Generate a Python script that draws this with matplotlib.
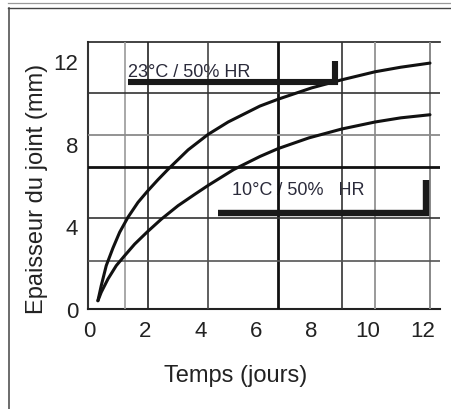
import matplotlib
matplotlib.use("Agg")
import matplotlib.pyplot as plt
from matplotlib.lines import Line2D

plt.rcParams['font.family'] = ['Liberation Sans', 'DejaVu Sans']

# ---- data ----
x_23 = [0.32, 0.44, 0.62, 0.86, 1.10, 1.40, 1.76, 2.10, 2.48, 2.84, 3.56, 4.28, 5.00,
        6.14, 6.79, 8.00, 9.08, 10.28, 11.20, 12.25]
y_23 = [0.40, 1.13, 2.10, 2.95, 3.71, 4.44, 5.16, 5.70, 6.26, 6.76, 7.70, 8.45, 9.05,
        9.82, 10.15, 10.70, 11.09, 11.48, 11.70, 11.90]

x_10 = [0.32, 0.44, 0.68, 0.98, 1.28, 1.64, 2.10, 2.60, 3.20, 3.80, 4.28, 5.20,
        6.14, 6.79, 7.90, 9.08, 10.28, 11.20, 12.25]
y_10 = [0.40, 0.81, 1.45, 2.10, 2.58, 3.14, 3.74, 4.35, 5.00, 5.55, 5.98, 6.75,
        7.38, 7.76, 8.28, 8.71, 9.05, 9.25, 9.40]

label_23 = "23°C / 50% HR"
label_10 = "10°C / 50%   HR"
bracket_23_x = [1.40, 8.82, 8.82]
bracket_23_y = [11.00, 11.00, 12.00]
bracket_10_x = [4.65, 12.12, 12.12]
bracket_10_y = [4.66, 4.66, 6.26]

x_ticks = [0, 2, 4, 6, 8, 10, 12]
y_ticks = [0, 4, 8, 12]

# grid lines of the scanned chart (position, colour, width)
v_grid = [(1.29, '#9a9a9a', 1.2), (2.12, '#222222', 1.2), (4.28, '#444444', 1.2),
          (6.79, '#111111', 2.0), (9.08, '#333333', 1.2), (10.28, '#9a9a9a', 1.4),
          (12.25, '#888888', 1.4)]
h_grid = [(2.32, '#555555', 1.2), (4.40, '#333333', 1.2), (6.86, '#111111', 2.0),
          (8.42, '#8a8a8a', 1.3), (10.45, '#333333', 1.2)]

fig = plt.figure(figsize=(4.52, 4.10), dpi=100)
fig.patch.set_facecolor('white')

# outer frame of the scan
fig.add_artist(Line2D([8/452, 1], [1 - 4/410, 1 - 4/410], color='#9a9a9a', lw=0.9, transform=fig.transFigure))
fig.add_artist(Line2D([8/452, 1], [1 - 8.7/410, 1 - 8.7/410], color='#444444', lw=1.0, transform=fig.transFigure))
fig.add_artist(Line2D([9/452, 9/452], [0, 1 - 8.7/410], color='#444444', lw=1.1, transform=fig.transFigure))

ax = fig.add_axes([88/452, 100/410, 352/452, 267/410])
ax.set_xlim(-0.036, 12.61)
ax.set_ylim(0, 12.92)

for xv, c, w in v_grid:
    ax.axvline(xv, color=c, lw=w, zorder=3)
for yv, c, w in h_grid:
    ax.axhline(yv, color=c, lw=w, zorder=3)

ax.plot(x_23, y_23, color='#111111', lw=2.2, solid_joinstyle='round', solid_capstyle='round', zorder=4)
ax.plot(x_10, y_10, color='#111111', lw=2.2, solid_joinstyle='round', solid_capstyle='round', zorder=4)

ax.plot(bracket_23_x, bracket_23_y, color='#1a1a1a', lw=4.4, solid_joinstyle='miter', solid_capstyle='butt', zorder=5)
ax.plot(bracket_10_x, bracket_10_y, color='#1a1a1a', lw=4.6, solid_joinstyle='miter', solid_capstyle='butt', zorder=5)

ax.text(1.40, 11.29, label_23, fontsize=13, color='#2a2a3a', ha='left', va='baseline', zorder=2)
ax.text(5.13, 5.56, label_10, fontsize=13, color='#2a2a3a', ha='left', va='baseline', zorder=2)

ax.spines['right'].set_visible(False)
ax.spines['left'].set_color('#333333')
ax.spines['left'].set_linewidth(1.5)
ax.spines['bottom'].set_color('#222222')
ax.spines['bottom'].set_linewidth(1.5)
ax.spines['top'].set_color('#222222')
ax.spines['top'].set_linewidth(1.2)

ax.set_xticks(x_ticks)
ax.set_yticks(y_ticks)
ax.set_xticklabels([str(v) for v in x_ticks])
ax.set_yticklabels([str(v) for v in y_ticks])
ax.tick_params(axis='both', length=0, labelsize=16, labelcolor='#222222')
ax.tick_params(axis='x', pad=8)
ax.tick_params(axis='y', pad=7)

ax.set_xlabel("Temps (jours)", fontsize=17, color='#222222')
ax.set_ylabel("Epaisseur du joint (mm)", fontsize=17, color='#222222')
ax.xaxis.set_label_coords(0.42, -0.205)
ax.yaxis.set_label_coords(-0.115, 0.455)

fig.savefig("out.png", dpi=100, facecolor='white')
